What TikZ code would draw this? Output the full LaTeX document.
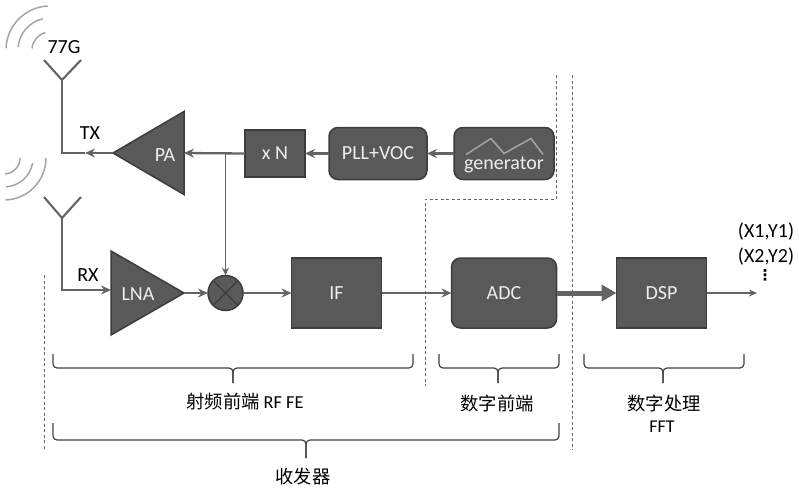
\documentclass[tikz,border=0pt]{standalone}
\usepackage{fontspec}
\setmainfont{Carlito}
\newfontfamily\cjk{Noto Sans CJK SC}
\newfontfamily\lat{Carlito}
\newfontfamily\sym{DejaVu Sans}
\usetikzlibrary{positioning,calc,arrows.meta,shapes.geometric}
\definecolor{cBlk}{RGB}{89,89,89}
\definecolor{cEdge}{RGB}{60,60,60}
\definecolor{cLine}{RGB}{100,100,100}
\definecolor{cWave}{RGB}{165,165,165}
\definecolor{cTxt}{RGB}{238,238,238}

\begin{document}
\begin{tikzpicture}[
  x=1pt, y=-1pt,
  font=\fontsize{20}{22}\selectfont,
  blk/.style   = {draw=cEdge, fill=cBlk, line width=1.5pt, text=cTxt, align=center,
                  inner sep=0pt, outer sep=0pt},
  sqbox/.style = {blk},
  rbox/.style  = {blk, rounded corners=9pt},
  amp/.style   = {blk, isosceles triangle, isosceles triangle stretches},
  mixer/.style = {blk, circle, minimum size=35pt},
  flow/.style  = {-{Stealth[length=10pt,width=9pt]}, draw=cLine, line width=2.3pt},
  thinflow/.style = {-{Stealth[length=8pt,width=7pt]}, draw=cLine, line width=1.4pt},
  wire/.style  = {draw=cLine, line width=2.1pt},
  wave/.style  = {draw=cWave, line width=1.5pt},
  sep/.style   = {draw=black!60, line width=1pt, dash pattern=on 3pt off 2.5pt},
  span/.style  = {draw=black!75, line width=1.2pt, rounded corners=4pt},
  tag/.style   = {text=black, inner sep=0pt},
  inv/.style   = {tag, text=cTxt},
  cn/.style    = {tag, font=\cjk\fontsize{18.3}{22}\selectfont}
]
\useasboundingbox (0,0) rectangle (799,491);

% ---- top row
\node[amp, shape border rotate=180, minimum width=83pt, minimum height=71pt, anchor=apex] (pa) at (113,153) {};
\node[inv] (palab) at ($(pa.lower side)+(-19,2)$) {PA};
\node[sqbox, minimum width=60pt, minimum height=47pt] (xn) at (275,153.5) {x N};
\node[rbox, minimum width=98pt, minimum height=52pt, right=24pt of xn] (pll) {PLL+VOC};
\node[rbox, minimum width=100pt, minimum height=52pt, right=27pt of pll] (gen) {};
\node[inv] (gentxt) at ($(gen.center)+(0,11)$) {generator};
\draw[cWave, line width=1.5pt] ($(gen.center)+(-38,1)$) -- ++(25,-16) -- ++(13,15) -- ++(27,-15) -- ++(12,16);

% ---- bottom row
\node[amp, minimum width=84pt, minimum height=73pt, anchor=apex] (lna) at (184,293) {};
\node[inv] (lnalab) at ($(lna.lower side)+(27,1)$) {LNA};
\node[mixer, right=24pt of lna.apex] (mix) {};
\draw[cEdge, line width=1.2pt] (mix.45) -- (mix.225) (mix.135) -- (mix.-45);
\node[sqbox, minimum width=90pt, minimum height=70pt, right=48.5pt of mix] (if) {IF};
\node[rbox, minimum width=105pt, minimum height=70pt, right=70pt of if] (adc) {ADC};
\node[sqbox, minimum width=90pt, minimum height=70pt, right=60pt of adc] (dsp) {DSP};

% ---- antennas and their waves
\coordinate (txant) at (62,80);
\coordinate (txbend) at (62,153);
\coordinate (txtip) at (85,153);
\coordinate (rxant) at (62,218);
\coordinate (rxbend) at (62,290);
\coordinate (out) at (757,293);
\draw[wire] (44,60) -- (txant) -- (81,60);
\draw[wire] (44,197) -- (rxant) -- (81,197);
\draw[wave] (47.7,6) arc[start angle=93, end angle=178, radius=44pt];
\draw[wave] (42.8,18.8) arc[start angle=103, end angle=175, radius=32pt];
\draw[wave] (45.3,32.6) arc[start angle=105, end angle=175, radius=18pt];
\draw[wave] (46,158) arc[start angle=0, end angle=-88, radius=42pt];
\draw[wave] (32.6,163) arc[start angle=-10, end angle=-86, radius=29pt];
\draw[wave] (20,158) arc[start angle=0, end angle=-86, radius=16pt];
\node[tag] (ghz) at (64,47) {77G};
\node[tag] (txl) at (90,133) {TX};
\node[tag] (rxl) at (88,275) {RX};

% ---- connectors
\draw[wire] (txant) -- (txbend) -- (txtip);
\draw[flow] (pa.apex) -- (txtip);
\draw[flow] (xn.west) -- (pa.lower side);
\coordinate (tap) at (mix |- xn.west);
\draw[thinflow] (tap) -- (mix);
\draw[flow] (pll) -- (xn);
\draw[flow] (gen) -- (pll);
\draw[flow] (rxant) -- (rxbend) -- (rxbend -| lna.lower side);
\draw[flow] (lna.apex) -- (mix);
\draw[flow] (mix) -- (if);
\draw[flow] (if) -- (adc);
\draw[-{Triangle[length=15pt,width=16pt]}, draw=cLine, fill=cLine, line width=5pt] (adc) -- (dsp);
\draw[thinflow] (dsp) -- (out);
\node[tag] (xy1) at (766,232) {(X1,Y1)};
\node[tag] (xy2) at (766,257) {(X2,Y2)};
\node[tag, font=\sym\bfseries\fontsize{15}{17}\selectfont] (more) at (765,275) {⋮};

% ---- separators
\draw[sep] (556,75) -- (556,199) -- (425,199) -- (425,386);
\draw[sep] (572,75) -- (572,450);
\draw[sep] (44,275) -- (44,450);

% ---- spans below the blocks
\foreach \xa/\xb/\xm/\yt/\yb/\ye in {53/413/233/354/368/383, 439/559/498/354/368/383, 584/744/663/354/368/383, 53/559/306/423/440/458} {
  \draw[span] (\xa,\yt) |- (\xm,\yb) -- (\xm,\ye);
  \draw[span] (\xb,\yt) |- (\xm,\yb) -- (\xm,\ye);
}
\node[cn] (rffe) at (245,402) {射频前端 {\lat RF FE}};
\node[cn] (dfe) at (497,403) {数字前端};
\node[cn] (dsplab) at (664,403) {数字处理};
\node[tag, font=\fontsize{18}{20}\selectfont] (fft) at (662,427) {FFT};
\node[cn] (trx) at (303,477) {收发器};
\end{tikzpicture}
\end{document}
